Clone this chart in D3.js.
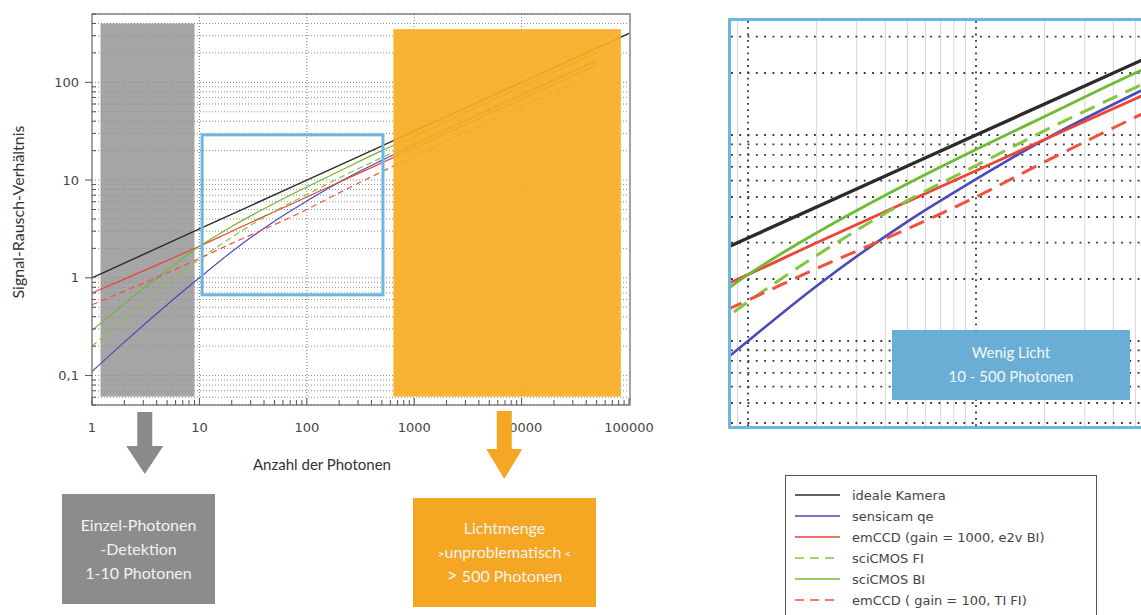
<!DOCTYPE html>
<html>
<head>
<meta charset="utf-8">
<script src="https://cdn.jsdelivr.net/npm/d3@7"></script>
<style>
  body { margin: 0; background: #fff; }
  svg { display: block; }
</style>
</head>
<body>
<div id="chart"></div>
<script>
// photon counts used for the camera curves
const photons = [1, 2, 5, 10, 20, 50, 100, 200, 500, 1000, 10000, 50000];
const idealPhotons = [1, 10, 100, 1000, 10000, 100000];

// signal-to-noise values
const idealSnr     = [1, 3.16, 10, 31.6, 100, 316];
const sensicamSnr  = [0.11, 0.22, 0.53, 1.0, 1.85, 3.8, 6.1, 9.5, 15.9, 22.9, 74, 166];
const emccd1000Snr = [0.70, 0.97, 1.5, 2.1, 3.0, 4.75, 6.7, 9.5, 15, 21.3, 67, 150];
const scicmosFiSnr = [0.20, 0.38, 0.87, 1.55, 2.6, 4.8, 7.1, 10.5, 17, 24.2, 77, 172];
const scicmosBiSnr = [0.29, 0.54, 1.2, 2.1, 3.35, 5.8, 8.5, 12.3, 20, 28, 90, 200];
const emccd100Snr  = [0.53, 0.73, 1.12, 1.58, 2.25, 3.5, 5.0, 7.4, 12.2, 17.5, 56, 125];

const seriesNames = ["ideale Kamera", "sensicam qe", "emCCD (gain = 1000, e2v BI)",
                     "sciCMOS FI", "sciCMOS BI", "emCCD ( gain = 100, TI FI)"];

const xTickValues = [1, 10, 100, 1000, 10000, 100000];
const xTickLabels = ["1", "10", "100", "1000", "10000", "100000"];
const yTickValues = [0.1, 1, 10, 100];
const yTickLabels = ["0,1", "1", "10", "100"];

// highlighted photon ranges [from, to] and SNR extent
const singleRange = [1.2, 9];
const brightRange = [640, 84000];
const lowRange    = [10.6, 512];
const lowSnrRange = [0.67, 29];

const width = 1141, height = 615;
const svg = d3.select("#chart").append("svg")
    .attr("width", width).attr("height", height);

// styles per series (same order as names)
const styles = [
  { color: "#2b2b2b", dash: null, w: 1.4, wi: 3.4 },
  { color: "#4a4ab8", dash: null, w: 1.2, wi: 2.6 },
  { color: "#ee4336", dash: null, w: 1.2, wi: 2.8 },
  { color: "#86c63e", dash: "6,4", di: "16,9", w: 1.2, wi: 3 },
  { color: "#6dbb30", dash: null, w: 1.2, wi: 2.8 },
  { color: "#f0523f", dash: "6,4", di: "16,9", w: 1.2, wi: 3 }
];

const snrLists = [idealSnr, sensicamSnr, emccd1000Snr, scicmosFiSnr, scicmosBiSnr, emccd100Snr];
const series = seriesNames.map((name, i) => {
  const xs = i === 0 ? idealPhotons : photons;
  return { name, style: styles[i], values: xs.map((n, j) => ({ n, s: snrLists[i][j] })) };
});

// ---------- main chart ----------
const x = d3.scaleLog().domain([1, 100000]).range([92, 629]);
const y = d3.scaleLog().domain([0.05, 500]).range([405, 14]);

const minorY = [];
for (let e = -2; e <= 2; e++) for (let m = 1; m <= 9; m++) {
  const v = m * Math.pow(10, e);
  if (v >= 0.05 && v <= 500) minorY.push(v);
}
const minorX = [];
for (let e = 0; e <= 4; e++) for (let m = 1; m <= 9; m++) minorX.push(m * Math.pow(10, e));
minorX.push(100000);

const main = svg.append("g");

// grid
main.append("g").selectAll("line").data(minorY).join("line")
    .attr("x1", x(1)).attr("x2", x(100000))
    .attr("y1", d => y(d)).attr("y2", d => y(d))
    .attr("stroke", "#8a8a8a").attr("stroke-width", 1)
    .attr("stroke-dasharray", "1,2");
main.append("g").selectAll("line").data(xTickValues.slice(1, 5)).join("line")
    .attr("x1", d => x(d)).attr("x2", d => x(d))
    .attr("y1", y(500)).attr("y2", y(0.05))
    .attr("stroke", "#777").attr("stroke-width", 1)
    .attr("stroke-dasharray", "1,2");

// single-photon region
main.append("rect")
    .attr("x", x(singleRange[0])).attr("width", x(singleRange[1]) - x(singleRange[0]))
    .attr("y", y(400)).attr("height", y(0.061) - y(400))
    .attr("fill", "#8e8e8e").attr("opacity", 0.8);

const line = d3.line().x(d => x(d.n)).y(d => y(d.s)).curve(d3.curveMonotoneX);
main.append("g").selectAll("path").data(series).join("path")
    .attr("d", d => line(d.values))
    .attr("fill", "none")
    .attr("stroke", d => d.style.color)
    .attr("stroke-width", d => d.style.w)
    .attr("stroke-dasharray", d => d.style.dash);

// bright region
main.append("rect")
    .attr("x", x(brightRange[0])).attr("width", x(brightRange[1]) - x(brightRange[0]))
    .attr("y", y(350)).attr("height", y(0.061) - y(350))
    .attr("fill", "#f7ad22").attr("opacity", 0.92);

// low-light box
main.append("rect")
    .attr("x", x(lowRange[0])).attr("width", x(lowRange[1]) - x(lowRange[0]))
    .attr("y", y(lowSnrRange[1])).attr("height", y(lowSnrRange[0]) - y(lowSnrRange[1]))
    .attr("fill", "none").attr("stroke", "#6cb6e2").attr("stroke-width", 3);

// frame
main.append("rect")
    .attr("x", x(1)).attr("y", y(500))
    .attr("width", x(100000) - x(1) + 1).attr("height", y(0.05) - y(500))
    .attr("fill", "none").attr("stroke", "#666").attr("stroke-width", 1.2);

// ticks
main.append("g").selectAll("line").data(minorY).join("line")
    .attr("x1", x(1)).attr("x2", d => yTickValues.includes(d) ? x(1) - 7 : x(1) + 4)
    .attr("y1", d => y(d)).attr("y2", d => y(d))
    .attr("stroke", "#555");
main.append("g").selectAll("line").data(minorX).join("line")
    .attr("x1", d => x(d)).attr("x2", d => x(d))
    .attr("y1", y(0.05)).attr("y2", d => xTickValues.includes(d) ? y(0.05) - 7 : y(0.05) - 5)
    .attr("stroke", "#555");

main.append("g").selectAll("text").data(yTickValues).join("text")
    .attr("x", x(1) - 13).attr("y", d => y(d)).attr("dy", "0.35em")
    .attr("text-anchor", "end")
    .attr("font-family", "DejaVu Sans").attr("font-size", 13).attr("fill", "#444")
    .text((d, i) => yTickLabels[i]);
main.append("g").selectAll("text").data(xTickValues).join("text")
    .attr("x", d => x(d)).attr("y", 432)
    .attr("text-anchor", "middle")
    .attr("font-family", "DejaVu Sans").attr("font-size", 13).attr("fill", "#444")
    .text((d, i) => xTickLabels[i]);

main.append("text")
    .attr("x", 322).attr("y", 470).attr("text-anchor", "middle")
    .attr("font-family", "Lato").attr("font-size", 15).attr("fill", "#333")
    .text("Anzahl der Photonen");
main.append("text")
    .attr("transform", "translate(24,212) rotate(-90)").attr("text-anchor", "middle")
    .attr("font-family", "Lato").attr("font-size", 16).attr("fill", "#333")
    .text("Signal-Rausch-Verhältnis");

// arrows + boxes
function arrow(cx, top, neck, tip, shaft, head, color) {
  const p = d3.path();
  p.moveTo(cx - shaft / 2, top); p.lineTo(cx + shaft / 2, top);
  p.lineTo(cx + shaft / 2, neck); p.lineTo(cx + head / 2, neck);
  p.lineTo(cx, tip); p.lineTo(cx - head / 2, neck);
  p.lineTo(cx - shaft / 2, neck); p.closePath();
  svg.append("path").attr("d", p.toString()).attr("fill", color);
}
arrow(x(3.1), 412, 446, 474, 15, 37, "#8a8a8a");
arrow(x(6900), 411, 449, 479, 15, 36, "#f5a623");

// each line is a list of [text, size] parts
function box(bx, by, bw, bh, color, lines) {
  svg.append("rect").attr("x", bx).attr("y", by).attr("width", bw).attr("height", bh).attr("fill", color);
  const t = svg.append("g").selectAll("text").data(lines).join("text")
      .attr("x", bx + bw / 2).attr("y", (d, i) => by + bh / 2 + (i - 1) * 24)
      .attr("dy", "0.35em").attr("text-anchor", "middle")
      .attr("font-family", "Lato").attr("font-size", 16).attr("fill", "#f2f2f2");
  t.selectAll("tspan").data(d => d).join("tspan")
      .attr("font-size", d => d[1]).text(d => d[0]);
}
box(62, 494, 153, 110, "#8c8c8c",
    [[["Einzel-Photonen", 16]], [["-Detektion", 16]], [["1-10 Photonen", 16]]]);
box(413, 498, 183, 109, "#f5a623",
    [[["Lichtmenge", 16]], [[">", 12], ["unproblematisch", 16], [" <", 12]], [[">", 19], [" 500 Photonen", 16]]]);

// ---------- inset ----------
const xi = d3.scaleLog().domain([10, 100]).range([748, 976]);
const yi = d3.scaleLog().domain([1, 10]).range([341, 135]);

svg.append("clipPath").attr("id", "insetClip")
  .append("rect").attr("x", 731).attr("y", 21).attr("width", 430).attr("height", 405);
const inset = svg.append("g").attr("clip-path", "url(#insetClip)");

const insetMinorX = [];
for (let e = 0; e <= 2; e++) for (let m = 1; m <= 9; m++) insetMinorX.push(m * Math.pow(10, e));
const insetMinorY = [];
for (let e = -1; e <= 1; e++) for (let m = 1; m <= 9; m++) insetMinorY.push(m * Math.pow(10, e));

inset.append("g").selectAll("line").data(insetMinorX.filter(d => d !== 10 && d !== 100)).join("line")
    .attr("x1", d => xi(d)).attr("x2", d => xi(d)).attr("y1", 21).attr("y2", 426)
    .attr("stroke", "#d6d6d6").attr("stroke-width", 1);
inset.append("g").selectAll("line").data(insetMinorY).join("line")
    .attr("x1", 731).attr("x2", 1160)
    .attr("y1", d => yi(d)).attr("y2", d => yi(d))
    .attr("stroke", "#333").attr("stroke-width", 1.8)
    .attr("stroke-dasharray", "1.8,6.5");
inset.append("g").selectAll("line").data([10, 100]).join("line")
    .attr("x1", d => xi(d)).attr("x2", d => xi(d)).attr("y1", 21).attr("y2", 426)
    .attr("stroke", "#333").attr("stroke-width", 1.8)
    .attr("stroke-dasharray", "1.8,4.5");

const lineI = d3.line().x(d => xi(d.n)).y(d => yi(d.s)).curve(d3.curveMonotoneX);
inset.append("g").selectAll("path").data(series).join("path")
    .attr("d", d => lineI(d.values))
    .attr("fill", "none")
    .attr("stroke", d => d.style.color)
    .attr("stroke-width", d => d.style.wi)
    .attr("stroke-dasharray", d => d.style.di || null);

inset.append("rect").attr("x", 892).attr("y", 330).attr("width", 238).attr("height", 70)
    .attr("fill", "#6aaed6");
inset.append("g").selectAll("text").data(["Wenig Licht", "10 - 500 Photonen"]).join("text")
    .attr("x", 1011).attr("y", (d, i) => 353 + i * 24).attr("dy", "0.35em")
    .attr("text-anchor", "middle").attr("font-family", "Lato").attr("font-size", 15)
    .attr("fill", "#f4f8fb").text(d => d);

svg.append("rect").attr("x", 729.5).attr("y", 19.5).attr("width", 440).attr("height", 408)
    .attr("fill", "none").attr("stroke", "#6cb6e2").attr("stroke-width", 3);

// ---------- legend ----------
const legend = svg.append("g");
legend.append("rect").attr("x", 785.5).attr("y", 475.5).attr("width", 311).attr("height", 150)
    .attr("fill", "#fff").attr("stroke", "#555").attr("stroke-width", 1);
const rows = legend.selectAll("g.row").data(series).join("g").attr("class", "row")
    .attr("transform", (d, i) => `translate(0,${495 + i * 21})`);
rows.append("line").attr("x1", 795).attr("x2", 840).attr("y1", 0).attr("y2", 0)
    .attr("stroke", d => d.style.color).attr("stroke-width", 1.5)
    .attr("stroke-dasharray", d => d.style.dash ? "9,6" : null);
rows.append("text").attr("x", 852).attr("y", 0).attr("dy", "0.35em")
    .attr("font-family", "DejaVu Sans").attr("font-size", 13).attr("fill", "#444")
    .text(d => d.name);
</script>
</body>
</html>
